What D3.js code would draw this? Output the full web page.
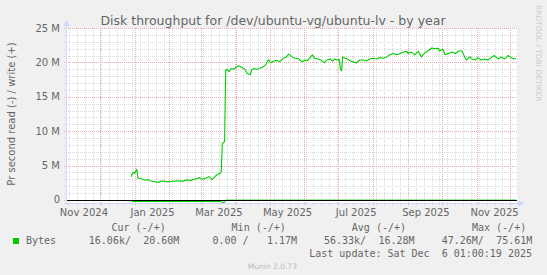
<!DOCTYPE html>
<html>
<head>
<meta charset="utf-8">
<script src="https://cdn.jsdelivr.net/npm/d3@7"></script>
<style>
  body { margin: 0; background: #f0f0f0; }
  svg { display: block; font-family: "DejaVu Sans", sans-serif; }
  .mono { font-family: "DejaVu Sans Mono", monospace; font-size: 10px; fill: #666; white-space: pre; }
</style>
</head>
<body>
<svg id="chart"></svg>
<script>
// write (+) series, values in M bytes/s
const writeDates = [
  "2024-12-29", "2024-12-30", "2024-12-31", "2025-01-01", "2025-01-03", "2025-01-04", "2025-01-06", "2025-01-08",
  "2025-01-10", "2025-01-13", "2025-01-15", "2025-01-19", "2025-01-22", "2025-01-25", "2025-01-28", "2025-02-01",
  "2025-02-05", "2025-02-09", "2025-02-12", "2025-02-16", "2025-02-20", "2025-02-24", "2025-02-28", "2025-03-02",
  "2025-03-05", "2025-03-08", "2025-03-11", "2025-03-15", "2025-03-18", "2025-03-19", "2025-03-20", "2025-03-22",
  "2025-03-23", "2025-03-24", "2025-03-26", "2025-03-28", "2025-03-30", "2025-03-31", "2025-04-02", "2025-04-04",
  "2025-04-06", "2025-04-09", "2025-04-11", "2025-04-14", "2025-04-15", "2025-04-17", "2025-04-20", "2025-04-22",
  "2025-04-26", "2025-04-28", "2025-04-30", "2025-05-02", "2025-05-04", "2025-05-07", "2025-05-10", "2025-05-13",
  "2025-05-16", "2025-05-18", "2025-05-21", "2025-05-24", "2025-05-27", "2025-05-30", "2025-06-01", "2025-06-04",
  "2025-06-08", "2025-06-10", "2025-06-13", "2025-06-16", "2025-06-19", "2025-06-21", "2025-06-24", "2025-06-26",
  "2025-06-28", "2025-06-30", "2025-07-02", "2025-07-03", "2025-07-04", "2025-07-05", "2025-07-07", "2025-07-09",
  "2025-07-12", "2025-07-14", "2025-07-17", "2025-07-20", "2025-07-23", "2025-07-26", "2025-07-29", "2025-08-01",
  "2025-08-04", "2025-08-07", "2025-08-10", "2025-08-13", "2025-08-16", "2025-08-19", "2025-08-22", "2025-08-25",
  "2025-08-28", "2025-08-31", "2025-09-01", "2025-09-04", "2025-09-07", "2025-09-10", "2025-09-13", "2025-09-16",
  "2025-09-19", "2025-09-22", "2025-09-25", "2025-09-28", "2025-09-29", "2025-10-02", "2025-10-04", "2025-10-07",
  "2025-10-10", "2025-10-13", "2025-10-16", "2025-10-19", "2025-10-20", "2025-10-22", "2025-10-23", "2025-10-26",
  "2025-10-28", "2025-10-31", "2025-11-02", "2025-11-05", "2025-11-08", "2025-11-11", "2025-11-14", "2025-11-17",
  "2025-11-20", "2025-11-23", "2025-11-26", "2025-11-29", "2025-12-01", "2025-12-04", "2025-12-06"
];
const writeValues = [
  3.39, 3.88, 4.0, 3.85, 4.46, 3.15, 3.15, 3.0,
  2.9, 2.95, 2.8, 2.66, 2.56, 2.75, 2.7, 2.66,
  2.75, 2.8, 2.7, 2.9, 2.85, 3.05, 3.25, 3.0,
  3.15, 3.39, 3.0, 3.63, 3.88, 4.12, 8.2, 8.5,
  18.9, 19.0, 18.65, 19.1, 19.0, 19.1, 19.4, 19.5,
  19.3, 19.0, 18.4, 18.2, 18.9, 19.1, 19.0, 19.1,
  19.4, 19.8, 20.4, 19.95, 20.1, 20.3, 20.1, 20.6,
  20.8, 21.2, 20.8, 20.6, 20.5, 20.1, 20.3, 20.3,
  21.1, 20.6, 20.5, 20.3, 19.95, 20.35, 20.5, 20.2,
  20.5, 20.35, 20.4, 19.0, 18.8, 20.8, 20.6, 20.5,
  20.2, 20.1, 19.9, 20.35, 20.35, 20.2, 20.5, 20.6,
  20.5, 20.7, 20.6, 20.8, 21.1, 21.3, 21.1, 21.3,
  21.5, 21.6, 21.3, 21.5, 21.1, 21.6, 20.8, 21.4,
  21.7, 22.1, 22.0, 22.05, 21.65, 21.9, 21.1, 21.3,
  21.5, 21.3, 21.65, 21.65, 21.3, 20.6, 20.35, 20.8,
  20.5, 20.35, 20.7, 20.35, 20.5, 20.35, 20.7, 21.0,
  20.5, 20.8, 20.5, 21.0, 20.8, 20.5, 20.6
];
// read (-) series, drawn below zero
const readDates = ["2024-12-29", "2024-12-30", "2025-03-18", "2025-03-20", "2025-03-22", "2025-03-23", "2025-12-06"];
const readValues = [-0.05, -0.22, -0.22, -0.38, -0.38, -0.02, -0.02];

const yTickValues = [0, 5, 10, 15, 20, 25];
const yTickLabels = ["0", "5 M", "10 M", "15 M", "20 M", "25 M"];
const xTickDates = ["2024-11-01", "2025-01-01", "2025-03-01", "2025-05-01", "2025-07-01", "2025-09-01", "2025-11-01"];
const xTickLabels = ["Nov 2024", "Jan 2025", "Mar 2025", "May 2025", "Jul 2025", "Sep 2025", "Nov 2025"];

const legendHeaders = ["Cur (-/+)", "Min (-/+)", "Avg (-/+)", "Max (-/+)"];
const legendRead = ["16.06k/", "0.00 /", "56.33k/", "47.26M/"];
const legendWrite = ["20.60M", "1.17M", "16.28M", "75.61M"];

const parseDay = d3.utcParse("%Y-%m-%d");
const endTime = new Date(Date.UTC(2025, 11, 6, 1, 0, 19));
const startTime = new Date(endTime.getTime() - 400 * 864e5);

const dims = { width: 547, height: 275, left: 66, right: 516, top: 28, bottom: 203 };

const svg = d3.select("#chart").attr("width", dims.width).attr("height", dims.height);

const xScale = d3.scaleUtc().domain([startTime, endTime]).range([dims.left, dims.right]);
const yScale = d3.scaleLinear().domain([-0.44, 25]).range([dims.bottom, dims.top]);
const px = v => Math.round(v) + 0.5;

svg.append("rect").attr("width", dims.width).attr("height", dims.height).attr("fill", "#f0f0f0");
svg.append("rect")
  .attr("x", dims.left).attr("y", dims.top)
  .attr("width", dims.right - dims.left + 1).attr("height", dims.bottom - dims.top)
  .attr("fill", "#ffffff");

// grid
const grid = svg.append("g").attr("stroke-dasharray", "1,1").attr("shape-rendering", "crispEdges");
const minorY = d3.range(1, 26).filter(v => v % 5 !== 0);
grid.selectAll(".hmin").data(minorY).join("line")
  .attr("x1", dims.left - 2).attr("x2", dims.right + 1)
  .attr("y1", d => px(yScale(d))).attr("y2", d => px(yScale(d)))
  .attr("stroke", "#d9d9d9");
grid.selectAll(".vmin").data(d3.utcMonday.range(startTime, endTime)).join("line")
  .attr("x1", d => px(xScale(d))).attr("x2", d => px(xScale(d)))
  .attr("y1", dims.top).attr("y2", dims.bottom + 2)
  .attr("stroke", "#d9d9d9");
grid.selectAll(".hmaj").data(yTickValues).join("line")
  .attr("x1", dims.left - 2).attr("x2", dims.right + 1)
  .attr("y1", d => px(yScale(d))).attr("y2", d => px(yScale(d)))
  .attr("stroke", "#eeaaaa");
grid.selectAll(".vmaj").data(d3.utcMonth.range(startTime, endTime)).join("line")
  .attr("x1", d => px(xScale(d))).attr("x2", d => px(xScale(d)))
  .attr("y1", dims.top).attr("y2", dims.bottom + 2)
  .attr("stroke", "#eeaaaa");

// data
svg.append("clipPath").attr("id", "plotClip").append("rect")
  .attr("x", dims.left).attr("y", dims.top)
  .attr("width", dims.right - dims.left + 1).attr("height", dims.bottom - dims.top);

const line = d3.line().x(d => xScale(d.date)).y(d => yScale(d.value));
const writeData = writeDates.map((d, i) => ({ date: parseDay(d), value: writeValues[i] }));
const readData = readDates.map((d, i) => ({ date: parseDay(d), value: readValues[i] }));

const plot = svg.append("g").attr("clip-path", "url(#plotClip)");
plot.append("path").datum(readData).attr("d", line)
  .attr("fill", "none").attr("stroke", "#00cc00").attr("stroke-width", 1);
plot.append("path").datum(writeData).attr("d", line)
  .attr("fill", "none").attr("stroke", "#00cc00").attr("stroke-width", 1.1).attr("stroke-linejoin", "round");

// zero rule
svg.append("line")
  .attr("x1", dims.left).attr("x2", dims.right + 1)
  .attr("y1", px(yScale(0))).attr("y2", px(yScale(0)))
  .attr("stroke", "#000000").attr("shape-rendering", "crispEdges");

// axes + arrows
const axisColor = "#cfd6f8";
svg.append("line")
  .attr("x1", dims.left - 2).attr("x2", dims.right + 2)
  .attr("y1", dims.bottom + 0.5).attr("y2", dims.bottom + 0.5)
  .attr("stroke", axisColor);
svg.append("line")
  .attr("x1", dims.left + 0.5).attr("x2", dims.left + 0.5)
  .attr("y1", dims.bottom + 2).attr("y2", dims.top - 3)
  .attr("stroke", axisColor);
svg.append("path")
  .attr("d", `M${dims.right + 2},${dims.bottom - 2.5}L${dims.right + 8},${dims.bottom + 0.5}L${dims.right + 2},${dims.bottom + 3.5}Z`)
  .attr("fill", axisColor);
svg.append("path")
  .attr("d", `M${dims.left - 2.5},${dims.top - 2}L${dims.left + 0.5},${dims.top - 8}L${dims.left + 3.5},${dims.top - 2}Z`)
  .attr("fill", axisColor);

// tick labels
svg.selectAll(".ylab").data(yTickValues).join("text")
  .attr("x", dims.left - 6).attr("y", d => yScale(d) + 3.5)
  .attr("text-anchor", "end").attr("font-size", 10).attr("fill", "#666")
  .text((d, i) => yTickLabels[i]);
svg.selectAll(".xlab").data(xTickDates).join("text")
  .attr("x", d => xScale(d3.utcDay.offset(parseDay(d), 16)))
  .attr("y", 216)
  .attr("text-anchor", "middle").attr("font-size", 10).attr("fill", "#666")
  .text((d, i) => xTickLabels[i]);

// titles
svg.append("text").attr("x", 273).attr("y", 25).attr("text-anchor", "middle")
  .attr("font-size", 12.5).attr("fill", "#666")
  .text("Disk throughput for /dev/ubuntu-vg/ubuntu-lv - by year");
svg.append("text").attr("transform", "translate(15,114) rotate(-90)")
  .attr("text-anchor", "middle").attr("font-size", 10).attr("fill", "#666")
  .text("Pr second read (-) / write (+)");
svg.append("text").attr("transform", "translate(535.5,5) rotate(90)")
  .attr("font-size", 7.5).attr("fill", "#cccccc")
  .text("RRDTOOL / TOBI OETIKER");

// legend
const headerX = [111.5, 231.6, 351.8, 472];
const readX = [88.8, 212.5, 324, 441.7];
const writeEndX = [179.4, 297, 414.5, 532.3];
svg.selectAll(".lh").data(legendHeaders).join("text").attr("class", "mono")
  .attr("x", (d, i) => headerX[i]).attr("y", 231).text(d => d);
svg.append("rect").attr("x", 13).attr("y", 238).attr("width", 6).attr("height", 6).attr("fill", "#00cc00");
svg.append("text").attr("class", "mono").attr("x", 26).attr("y", 244).text("Bytes");
svg.selectAll(".lr").data(legendRead).join("text").attr("class", "mono")
  .attr("x", (d, i) => readX[i]).attr("y", 244).text(d => d);
svg.selectAll(".lw").data(legendWrite).join("text").attr("class", "mono")
  .attr("x", (d, i) => writeEndX[i]).attr("y", 244).attr("text-anchor", "end").text(d => d);
svg.append("text").attr("class", "mono").attr("x", 532).attr("y", 256.5).attr("text-anchor", "end")
  .text("Last update: Sat Dec  6 01:00:19 2025");
svg.append("text").attr("x", 272.4).attr("y", 268.5).attr("text-anchor", "middle")
  .attr("font-size", 7.5).attr("fill", "#bbbbbb")
  .text("Munin 2.0.73");
</script>
</body>
</html>
